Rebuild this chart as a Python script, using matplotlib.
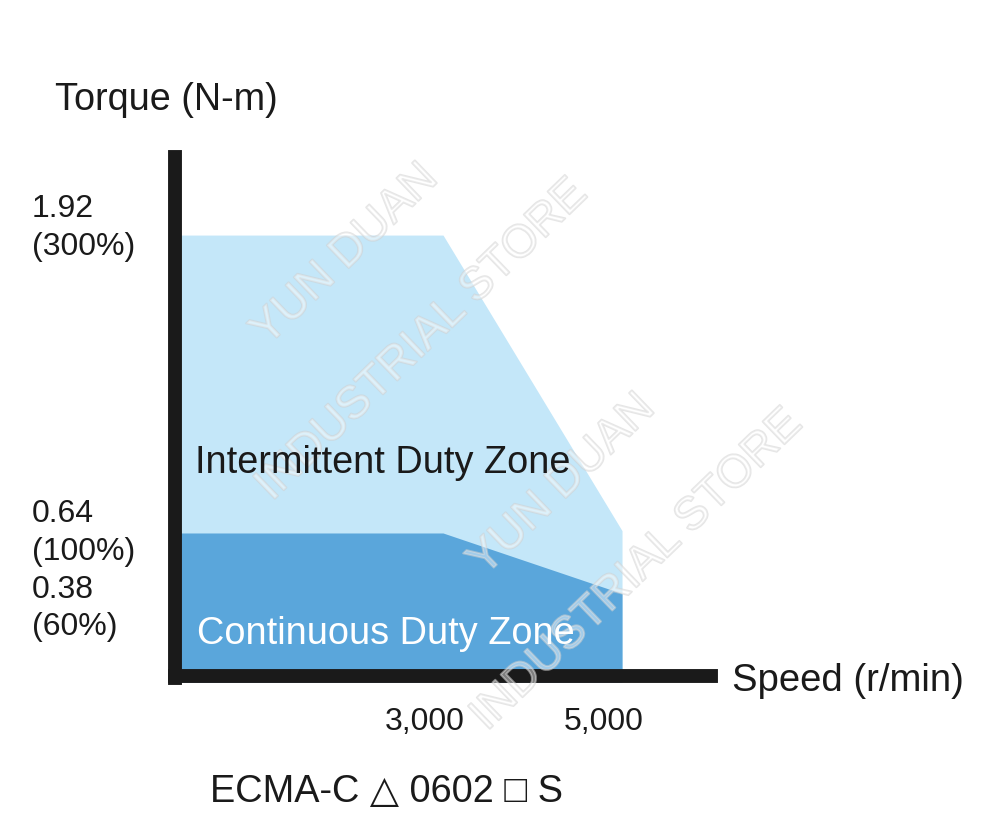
import numpy as np
import matplotlib
matplotlib.use("Agg")
import matplotlib.pyplot as plt
import matplotlib.patheffects as pe

plt.rcParams['font.family'] = ['Liberation Sans', 'DejaVu Sans']

# torque-speed curve (schematic)
speed = [0, 3000, 5000]
intermittent = [1.92, 1.92, 0.65]
continuous = [0.64, 0.64, 0.38]

y_ticks = [1.92, 0.64, 0.38]
y_tick_labels = ["1.92\n(300%)", "0.64\n(100%)", "0.38\n(60%)"]
x_ticks = [3000, 5000]
x_tick_labels = ["3,000", "5,000"]

light_blue = "#c4e7f9"
dark_blue = "#5aa6db"

fig = plt.figure(figsize=(10, 8.33), dpi=100)
ax = fig.add_axes([0, 0, 1, 1])
# px = 174.5 + 0.0895*rpm ; py(from top) = 682 - 232.8*T
ax.set_xlim(-1950, 9223)
ax.set_ylim(-0.649, 2.93)

ax.fill_between(speed, 0, intermittent, color=light_blue, lw=0, zorder=1)
ax.fill_between(speed, 0, continuous, color=dark_blue, lw=0, zorder=2)

# thick axes
for s in ["top", "right"]:
    ax.spines[s].set_visible(False)
ax.spines["left"].set_position(("data", 0))
ax.spines["bottom"].set_position(("data", 0.025))
for s in ["left", "bottom"]:
    ax.spines[s].set_linewidth(10)
    ax.spines[s].set_color("#1a1a1a")
    ax.spines[s].set_zorder(5)
ax.spines["left"].set_bounds(0.017, 2.255)
ax.spines["bottom"].set_bounds(0, 5990)
ax.set_xticks([])
ax.set_yticks([])
ax.patch.set_visible(False)

for v, lab, dy in zip(y_ticks, y_tick_labels, [5, 0, -11]):
    ax.annotate(lab, (0, v), xytext=(-102.6, dy), textcoords="offset points",
                ha="left", va="center", fontsize=23, linespacing=1.32,
                color="#1a1a1a")

for v, lab in zip(x_ticks, x_tick_labels):
    ax.annotate(lab, (v, 0), xytext=(-13, -28.5), textcoords="offset points",
                ha="center", va="center", fontsize=23, color="#1a1a1a")

fig.text(0.055, 1 - 100 / 833, "Torque (N-m)", ha="left", va="center",
         fontsize=27.2, color="#1a1a1a")
fig.text(0.732, 1 - 681 / 833, "Speed (r/min)", ha="left", va="center",
         fontsize=27.5, color="#1a1a1a")
fig.text(0.195, 1 - 463 / 833, "Intermittent Duty Zone", ha="left",
         va="center", fontsize=27.3, color="#1a1a1a", zorder=6)
fig.text(0.197, 1 - 634 / 833, "Continuous Duty Zone", ha="left",
         va="center", fontsize=27.3, color="white", zorder=6)
fig.text(0.21, 1 - 792 / 833, "ECMA-C \u25b3 0602 \u25a1 S", ha="left",
         va="center", fontsize=27.3, color="#1a1a1a")

# watermark (faint outlined letters)
wm = dict(fontsize=33, color=(1, 1, 1, 0.25), rotation=44,
          ha="center", va="center", zorder=4,
          path_effects=[pe.withStroke(linewidth=1.4,
                                      foreground=(0.82, 0.82, 0.82, 0.55))])
for (cx, cy), (sx, sy) in zip([(345, 255), (562, 485)],
                              [(422, 340), (637, 570)]):
    fig.text(cx / 1000, 1 - cy / 833, "YUN DUAN", **wm)
    fig.text(sx / 1000, 1 - sy / 833, "INDUSTRIAL STORE", **wm)

fig.savefig("out.png", dpi=100)
